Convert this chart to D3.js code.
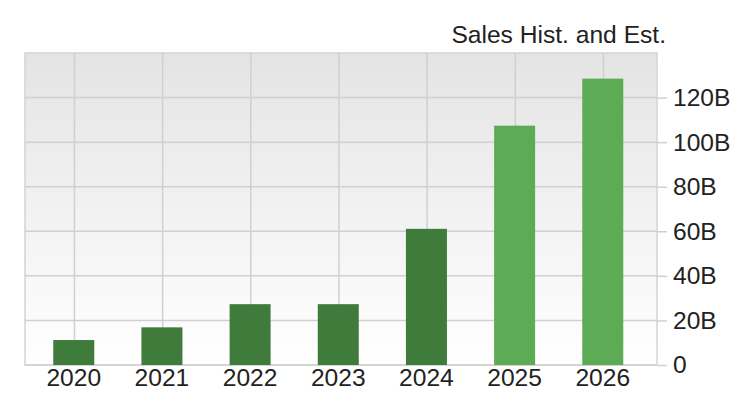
<!DOCTYPE html>
<html><head><meta charset="utf-8">
<script src="https://cdn.jsdelivr.net/npm/d3@7"></script>
<style>body{margin:0;background:#fff}svg{display:block}</style>
</head><body>
<svg id="c" width="740" height="407"></svg>
<script>
const categories = ["2020","2021","2022","2023","2024","2025","2026"];
const sales = [11.2, 16.9, 27.3, 27.3, 61.1, 107.4, 128.5];
const estimated = [false, false, false, false, false, true, true];
const yTicks = [0, 20, 40, 60, 80, 100, 120];
const yTickLabels = ["0", "20B", "40B", "60B", "80B", "100B", "120B"];
const title = "Sales Hist. and Est.";

const svg = d3.select("#c");
const L = 25, R = 657, T = 53, B = 365;
const font = "'Liberation Sans', Arial, sans-serif";
const fs = 24.6;

const defs = svg.append("defs");
const g = defs.append("linearGradient").attr("id","bg").attr("x1",0).attr("y1",0).attr("x2",0).attr("y2",1);
g.append("stop").attr("offset","0%").attr("stop-color","#e4e4e4");
g.append("stop").attr("offset","100%").attr("stop-color","#ffffff");

const x = d3.scaleBand().domain(categories).range([L, R])
  .paddingInner(0.535).paddingOuter(0.3515).align(0.456);
const y = d3.scaleLinear().domain([0, 140]).range([B, T]);

svg.append("rect").attr("x",L).attr("y",T).attr("width",R-L).attr("height",B-T)
  .attr("fill","url(#bg)").attr("stroke","#d4d4d4").attr("stroke-width",1.5);

// horizontal grid
svg.append("g").selectAll("line").data(yTicks).join("line")
  .attr("x1",L).attr("x2",R).attr("y1",d=>y(d)).attr("y2",d=>y(d))
  .attr("stroke","#d0d0d0").attr("stroke-width",1.5);
// vertical grid
svg.append("g").selectAll("line").data(categories).join("line")
  .attr("x1",d=>x(d)+x.bandwidth()/2+0.7).attr("x2",d=>x(d)+x.bandwidth()/2+0.7)
  .attr("y1",T).attr("y2",B)
  .attr("stroke","#d0d0d0").attr("stroke-width",1.5);

// bars
svg.append("g").selectAll("rect").data(categories).join("rect")
  .attr("x",d=>x(d)).attr("width",x.bandwidth())
  .attr("y",(d,i)=>y(sales[i])).attr("height",(d,i)=>B-y(sales[i]))
  .attr("fill",(d,i)=>estimated[i] ? "#5eab55" : "#3f7b3b");

// right axis
const yAxis = d3.axisRight(y).tickValues(yTicks).tickFormat((d,i)=>yTickLabels[i]).tickSize(10).tickPadding(6);
const ya = svg.append("g").attr("transform",`translate(${R},0)`).call(yAxis);
ya.select(".domain").remove();
ya.selectAll(".tick line").attr("stroke","#d0d0d0").attr("stroke-width",1.5);
ya.selectAll(".tick text").attr("font-family",font).attr("font-size",fs).attr("fill","#222");

// x labels
svg.append("g").selectAll("text").data(categories).join("text")
  .attr("x",d=>x(d)+x.bandwidth()/2).attr("y",386).attr("text-anchor","middle")
  .attr("font-family",font).attr("font-size",fs).attr("fill","#222").text(d=>d);

svg.append("text").attr("x",666).attr("y",43).attr("text-anchor","end")
  .attr("font-family",font).attr("font-size",fs).attr("fill","#222").text(title);
</script>
</body></html>
